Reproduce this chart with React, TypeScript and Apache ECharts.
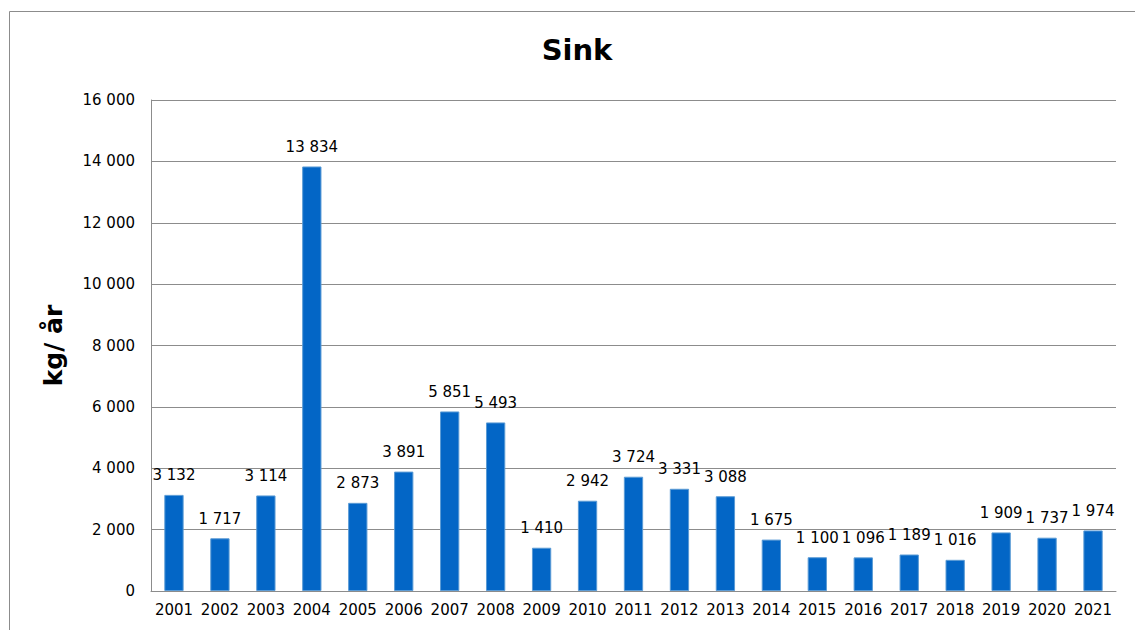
import React, { useEffect, useRef } from "react";
import * as echarts from "echarts";

const years = [
  "2001", "2002", "2003", "2004", "2005", "2006", "2007", "2008", "2009", "2010", "2011",
  "2012", "2013", "2014", "2015", "2016", "2017", "2018", "2019", "2020", "2021",
];
const zincKgPerYear = [
  3132, 1717, 3114, 13834, 2873, 3891, 5851, 5493, 1410, 2942, 3724,
  3331, 3088, 1675, 1100, 1096, 1189, 1016, 1909, 1737, 1974,
];
const yMax = 16000;
const yStep = 2000;

const FONT = "DejaVu Sans, Verdana, sans-serif";

// Thousands with a space separator: 13834 -> "13 834"
const fmt = (v: number) => String(Math.round(v)).replace(/\B(?=(\d{3})+(?!\d))/g, " ");

export default function App() {
  const ref = useRef<HTMLDivElement>(null);

  useEffect(() => {
    if (!ref.current) return;
    const chart = echarts.init(ref.current, undefined, { renderer: "svg" });
    chart.setOption({
      animation: false,
      backgroundColor: "#ffffff",
      title: {
        text: "Sink",
        left: 577,
        top: 35,
        textAlign: "center",
        padding: 0,
        textStyle: { fontFamily: FONT, fontSize: 29, fontWeight: "bold", color: "#000" },
      },
      graphic: [
        {
          type: "rect",
          shape: { x: 9.5, y: 11.5, width: 1300, height: 800 },
          style: { fill: "none", stroke: "#8c8c8c", lineWidth: 1 },
          silent: true,
        },
      ],
      grid: { left: 151, right: 19, top: 100, bottom: 39, containLabel: false },
      xAxis: {
        type: "category",
        data: years,
        axisLine: { show: true, lineStyle: { color: "#8c8c8c", width: 1 } },
        axisTick: { show: false },
        axisLabel: { fontFamily: FONT, fontSize: 15, color: "#000", margin: 11, interval: 0 },
      },
      yAxis: {
        type: "value",
        min: 0,
        max: yMax,
        interval: yStep,
        name: "kg/ år",
        nameLocation: "middle",
        nameRotate: 90,
        nameGap: 85,
        nameTextStyle: { fontFamily: FONT, fontSize: 25, fontWeight: "bold", color: "#000" },
        axisLine: { show: true, lineStyle: { color: "#8c8c8c", width: 1 } },
        axisTick: { show: false },
        axisLabel: { fontFamily: FONT, fontSize: 15, color: "#000", margin: 16, formatter: fmt },
        splitLine: { show: true, lineStyle: { color: "#8c8c8c", width: 1 } },
      },
      series: [
        {
          type: "bar",
          data: zincKgPerYear,
          barCategoryGap: "58%",
          itemStyle: { color: "#0366c6", borderColor: "#5b9bd5", borderWidth: 1 },
          label: {
            show: true,
            position: "top",
            distance: 12,
            fontFamily: FONT,
            fontSize: 15,
            color: "#000",
            formatter: (p: any) => fmt(p.value),
          },
        },
      ],
    });
    return () => chart.dispose();
  }, []);

  return (
    <div
      ref={ref}
      style={{ position: "absolute", left: 0, top: 0, width: 1135, height: 630 }}
    />
  );
}
